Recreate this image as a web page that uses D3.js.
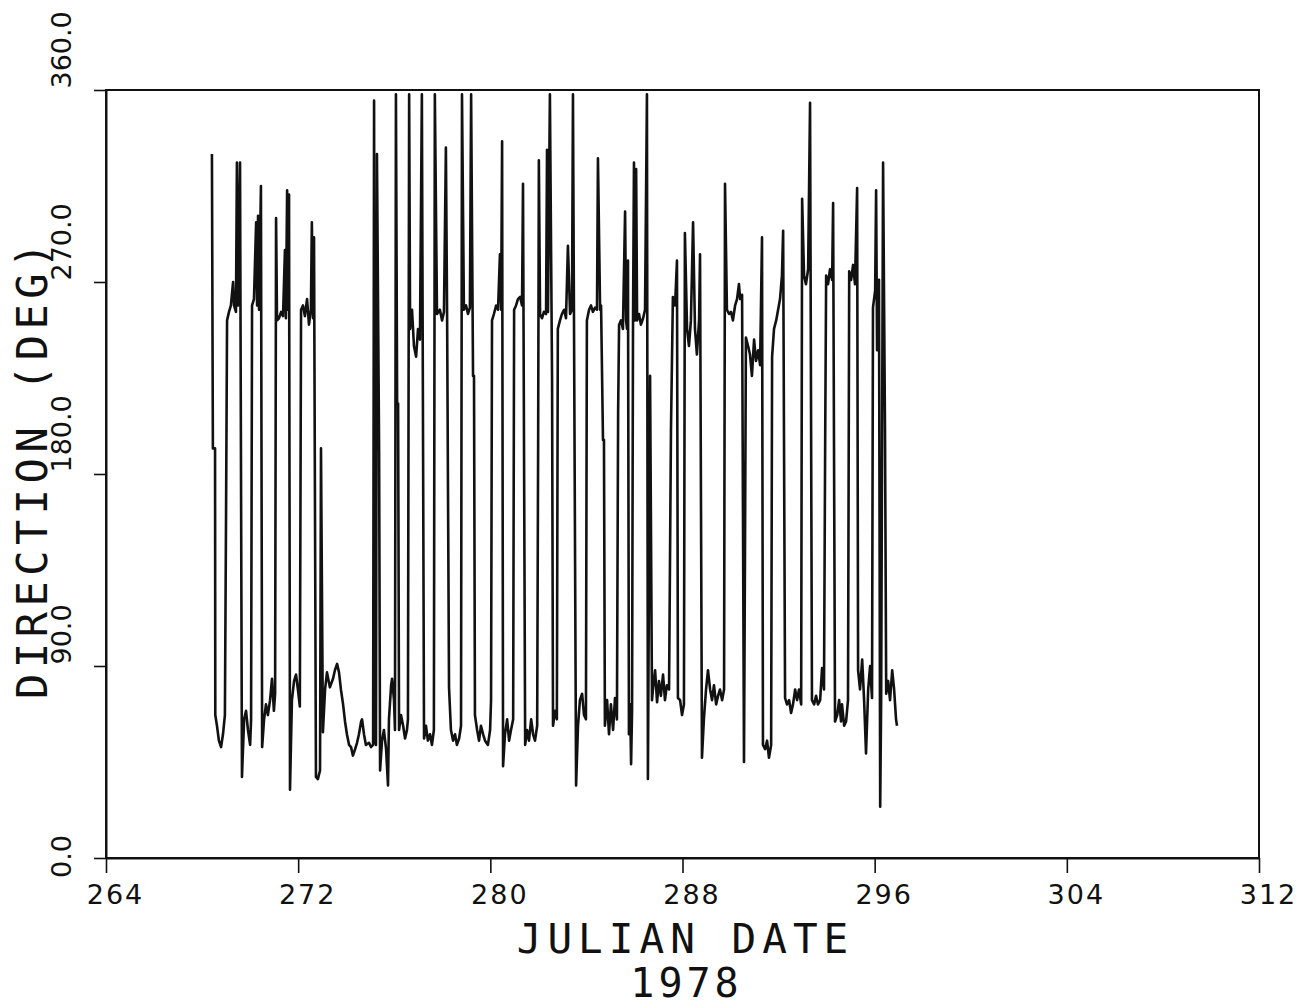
<!DOCTYPE html>
<html><head><meta charset="utf-8">
<script src="https://cdn.jsdelivr.net/npm/d3@7"></script>
<style>body{margin:0;background:#fff}svg{display:block}</style>
</head><body>
<svg id="chart" width="1306" height="1007"></svg>
<script>
(function () {
// ---- data ----
const xTicks = [264, 272, 280, 288, 296, 304, 312];
const xTickLabels = ["264", "272", "280", "288", "296", "304", "312"];
const yTicks = [0, 90, 180, 270, 360];
const yTickLabels = ["0.0", "90.0", "180.0", "270.0", "360.0"];
const xTitle = "JULIAN DATE";
const yearLabel = "1978";
const yTitle = "DIRECTION (DEG)";
// [julian day, direction in degrees]
const directionSeries = [
[268.41,330],[268.45,192],[268.54,192],[268.55,67],[268.62,62],[268.70,55],[268.79,52],[268.87,58],[268.95,67],[269.00,166],
[269.04,252],[269.12,256],[269.20,259],[269.29,270],[269.33,259],[269.41,256],[269.45,326],[269.50,259],[269.58,326],[269.66,38],
[269.75,65],[269.83,69],[269.91,60],[270.00,53],[270.04,65],[270.08,259],[270.16,262],[270.25,298],[270.29,259],[270.33,301],
[270.37,257],[270.45,315],[270.50,52],[270.58,65],[270.66,72],[270.74,67],[270.83,74],[270.91,84],[270.99,69],[271.04,77],
[271.08,300],[271.12,252],[271.20,253],[271.29,256],[271.37,254],[271.45,285],[271.49,253],[271.54,313],[271.58,257],[271.62,311],
[271.66,32],[271.74,74],[271.83,83],[271.91,86],[271.99,79],[272.07,71],[272.12,257],[272.20,259],[272.28,254],[272.37,262],
[272.45,250],[272.53,257],[272.57,298],[272.62,253],[272.66,291],[272.74,38],[272.82,37],[272.91,41],[272.95,192],[273.03,59],
[273.12,79],[273.20,87],[273.32,80],[273.45,84],[273.53,88],[273.62,91],[273.70,87],[273.78,79],[273.87,72],[273.95,64],
[274.03,58],[274.12,53],[274.20,52],[274.28,48],[274.37,51],[274.45,54],[274.53,58],[274.62,64],[274.66,65],[274.74,58],
[274.82,53],[274.95,54],[275.03,52],[275.12,53],[275.16,355],[275.20,55],[275.24,53],[275.28,330],[275.37,190],[275.41,41],
[275.49,55],[275.57,60],[275.66,51],[275.74,34],[275.78,65],[275.87,81],[275.91,84],[275.99,74],[276.03,60],[276.07,358],
[276.12,213],[276.16,213],[276.20,60],[276.28,67],[276.37,62],[276.45,56],[276.53,60],[276.57,65],[276.62,358],[276.66,248],
[276.74,257],[276.82,240],[276.91,235],[276.99,248],[277.07,243],[277.15,358],[277.24,56],[277.32,62],[277.40,55],[277.49,58],
[277.57,53],[277.65,60],[277.69,358],[277.78,255],[277.90,257],[277.99,252],[278.07,256],[278.15,333],[278.20,255],[278.28,80],
[278.36,60],[278.45,55],[278.53,58],[278.61,53],[278.70,56],[278.78,62],[278.82,358],[278.90,257],[278.99,259],[279.07,255],
[279.15,258],[279.20,358],[279.28,226],[279.32,226],[279.36,67],[279.45,60],[279.53,55],[279.61,62],[279.70,58],[279.78,55],
[279.90,53],[279.99,60],[280.03,74],[280.07,252],[280.15,255],[280.24,259],[280.32,257],[280.40,283],[280.45,257],[280.49,336],
[280.53,43],[280.61,58],[280.70,65],[280.78,55],[280.86,60],[280.95,65],[280.99,257],[281.07,259],[281.15,262],[281.24,263],
[281.32,259],[281.36,316],[281.45,53],[281.53,60],[281.61,55],[281.70,65],[281.78,58],[281.86,55],[281.95,62],[281.99,194],
[282.02,327],[282.07,255],[282.15,253],[282.23,256],[282.32,255],[282.36,332],[282.40,256],[282.48,358],[282.57,224],[282.61,62],
[282.69,69],[282.77,65],[282.81,248],[282.90,252],[282.98,255],[283.07,257],[283.15,253],[283.23,287],[283.32,255],[283.40,257],
[283.44,358],[283.57,34],[283.65,62],[283.73,74],[283.82,77],[283.90,67],[283.98,65],[284.02,252],[284.11,257],[284.19,259],
[284.27,256],[284.36,258],[284.44,257],[284.48,328],[284.57,257],[284.61,259],[284.69,196],[284.73,196],[284.77,62],[284.86,74],
[284.94,58],[285.02,72],[285.11,60],[285.19,75],[285.27,65],[285.32,209],[285.36,250],[285.44,252],[285.52,248],[285.61,303],
[285.65,252],[285.69,248],[285.73,280],[285.77,58],[285.82,72],[285.86,44],[285.90,69],[285.94,252],[285.98,326],[286.02,252],
[286.07,323],[286.11,252],[286.19,255],[286.27,250],[286.36,253],[286.44,257],[286.52,358],[286.56,37],[286.65,226],[286.73,74],
[286.77,79],[286.86,88],[286.94,73],[287.02,83],[287.10,76],[287.19,86],[287.27,74],[287.35,81],[287.44,79],[287.52,201],
[287.60,263],[287.69,259],[287.77,280],[287.81,75],[287.90,74],[287.98,67],[288.06,72],[288.10,293],[288.19,248],[288.27,240],
[288.35,252],[288.44,298],[288.52,248],[288.60,236],[288.69,252],[288.73,283],[288.81,47],[288.89,65],[288.98,79],[289.06,88],
[289.15,79],[289.23,74],[289.31,81],[289.40,72],[289.48,76],[289.56,79],[289.65,74],[289.73,79],[289.77,316],[289.85,257],
[289.94,255],[290.02,256],[290.10,252],[290.19,259],[290.27,262],[290.35,269],[290.40,262],[290.48,264],[290.56,45],[290.60,140],
[290.64,244],[290.73,240],[290.81,236],[290.89,226],[290.98,243],[291.06,233],[291.15,238],[291.23,231],[291.31,291],[291.35,53],
[291.44,51],[291.52,55],[291.60,47],[291.69,53],[291.73,235],[291.81,248],[291.90,252],[291.98,257],[292.06,262],[292.14,273],
[292.19,294],[292.27,75],[292.35,72],[292.44,74],[292.52,68],[292.60,72],[292.69,79],[292.77,74],[292.85,79],[292.94,72],
[292.98,309],[293.06,273],[293.14,269],[293.23,276],[293.31,354],[293.39,74],[293.48,72],[293.56,76],[293.64,72],[293.73,74],
[293.81,89],[293.89,79],[293.94,196],[293.98,273],[294.06,269],[294.14,276],[294.23,271],[294.27,307],[294.35,64],[294.44,67],
[294.52,74],[294.60,64],[294.64,72],[294.73,62],[294.81,64],[294.89,74],[294.94,275],[295.02,271],[295.10,278],[295.18,269],
[295.27,314],[295.31,88],[295.39,79],[295.48,93],[295.56,74],[295.64,49],[295.73,79],[295.81,90],[295.89,75],[295.93,258],
[296.02,266],[296.06,313],[296.10,238],[296.18,271],[296.23,24],[296.27,74],[296.35,326],[296.43,201],[296.48,77],[296.56,83],
[296.64,74],[296.73,88],[296.81,79],[296.89,65],[296.93,62]
];

// ---- chart ----
const svg = d3.select("#chart");
const pLeft = 106, pRight = 1259, pTop = 90, pBottom = 858;
const x = d3.scaleLinear().domain([264, 312]).range([pLeft, pRight]);
const y = d3.scaleLinear().domain([0, 360]).range([pBottom, pTop]);
const ink = "#111";
const numFont = "'DejaVu Sans', sans-serif";
const titleFont = "'DejaVu Sans Mono', monospace";

// frame
svg.append("rect").attr("x", pLeft).attr("y", pTop)
  .attr("width", pRight - pLeft).attr("height", pBottom - pTop)
  .attr("fill", "none").attr("stroke", ink).attr("stroke-width", 2);

// x axis
const gx = svg.append("g").attr("transform", `translate(0,${pBottom})`)
  .call(d3.axisBottom(x).tickValues(xTicks).tickSize(15).tickSizeOuter(0)
    .tickFormat((d, i) => xTickLabels[i]));
gx.select(".domain").attr("stroke", ink).attr("stroke-width", 2);
gx.selectAll(".tick line").attr("stroke", ink).attr("stroke-width", 1.6);
gx.selectAll(".tick text").attr("y", 46).attr("dy", 0).attr("dx", 9)
  .attr("fill", ink).style("font-family", numFont).style("font-size", "27px")
  .style("letter-spacing", "2px");

// y axis
const gy = svg.append("g").attr("transform", `translate(${pLeft},0)`)
  .call(d3.axisLeft(y).tickValues(yTicks).tickSize(12).tickSizeOuter(0)
    .tickFormat((d, i) => yTickLabels[i]));
gy.select(".domain").attr("stroke", ink).attr("stroke-width", 2);
gy.selectAll(".tick line").attr("stroke", ink).attr("stroke-width", 1.6);
gy.selectAll(".tick text")
  .attr("x", 0).attr("y", 0).attr("dy", 0)
  .attr("transform", "translate(-35,-2) rotate(-90)")
  .attr("text-anchor", d => d === 0 ? "middle" : "start")
  .attr("fill", ink).style("font-family", numFont).style("font-size", "27px");

// series line
const line = d3.line().x(d => x(d[0])).y(d => y(d[1]));
svg.append("path").datum(directionSeries)
  .attr("d", line).attr("fill", "none").attr("stroke", ink)
  .attr("stroke-width", 2.6).attr("stroke-linejoin", "round");

// titles
svg.append("text").attr("x", (pLeft + pRight) / 2 + 3).attr("y", 953)
  .attr("text-anchor", "middle").attr("fill", ink)
  .style("font-family", titleFont).style("font-size", "41px")
  .style("letter-spacing", "6px").text(xTitle);
svg.append("text").attr("x", (pLeft + pRight) / 2 + 4).attr("y", 997)
  .attr("text-anchor", "middle").attr("fill", ink)
  .style("font-family", titleFont).style("font-size", "40px")
  .style("letter-spacing", "4px").text(yearLabel);
svg.append("text")
  .attr("transform", `translate(47,${(pTop + pBottom) / 2 - 6}) rotate(-90)`)
  .attr("text-anchor", "middle").attr("fill", ink)
  .style("font-family", titleFont).style("font-size", "42px")
  .style("letter-spacing", "5.5px").text(yTitle);
})();
</script>
</body></html>
